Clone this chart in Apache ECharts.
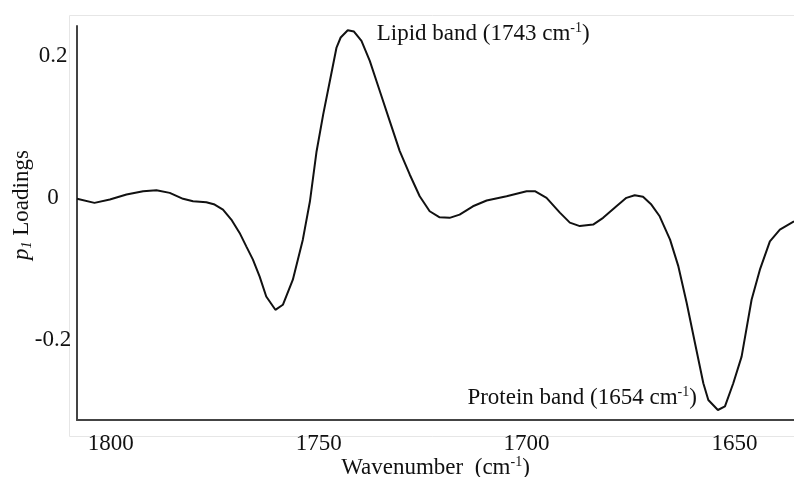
<!DOCTYPE html>
<html>
<head>
<meta charset="utf-8">
<script src="https://cdn.jsdelivr.net/npm/echarts@6/dist/echarts.min.js"></script>
<style>
  html, body { margin: 0; padding: 0; background: #ffffff; }
  #chart { width: 794px; height: 477px; }
</style>
</head>
<body>
<div id="chart"></div>
<script>
// PCA p1 loadings across the amide I / ester carbonyl region (cm-1)
const wavenumber = [1808.1, 1803.9, 1800.2, 1796.2, 1792.2, 1789.0, 1785.8, 1782.6, 1780.2, 1777.0,
  1775.0, 1773.0, 1771.0, 1769.0, 1767.4, 1765.8, 1764.2, 1762.6, 1760.4, 1758.6,
  1756.2, 1753.8, 1752.1, 1750.5, 1748.9, 1747.3, 1745.7, 1744.7, 1743.0, 1741.5,
  1739.7, 1737.7, 1735.3, 1732.9, 1730.5, 1728.1, 1725.7, 1723.3, 1720.9, 1718.5,
  1716.1, 1712.9, 1709.6, 1704.8, 1700.0, 1698.0, 1695.2, 1692.0, 1689.6, 1687.2,
  1684.0, 1681.6, 1678.4, 1676.0, 1674.0, 1672.0, 1670.0, 1668.0, 1665.5, 1663.5,
  1661.5, 1659.5, 1657.5, 1656.3, 1654.0, 1652.3, 1650.3, 1648.3, 1645.9, 1643.9,
  1641.5, 1639.1, 1635.7];
const loading = [-0.0011, -0.0068, -0.0021, 0.0049, 0.0096, 0.0110, 0.0073, -0.0011, -0.0045, -0.0059,
  -0.0092, -0.0162, -0.0303, -0.0491, -0.0680, -0.0868, -0.1104, -0.1386, -0.1574, -0.1503,
  -0.1150, -0.0586, -0.0049, 0.0656, 0.1179, 0.1649, 0.2120, 0.2261, 0.2364, 0.2345,
  0.2213, 0.1931, 0.1507, 0.1084, 0.0661, 0.0332, 0.0025, -0.0186, -0.0271, -0.0279,
  -0.0233, -0.0116, -0.0035, 0.0025, 0.0096, 0.0096, 0.0003, -0.0205, -0.0346, -0.0395,
  -0.0374, -0.0279, -0.0116, 0.0003, 0.0040, 0.0017, -0.0092, -0.0257, -0.0586, -0.0963,
  -0.1479, -0.2044, -0.2608, -0.2844, -0.2985, -0.2935, -0.2608, -0.2233, -0.1433, -0.1009,
  -0.0610, -0.0445, -0.0327];
const xTicks = [1800, 1750, 1700, 1650];
const yTicks = [-0.2, 0, 0.2];
const bandNames = ['Lipid band', 'Protein band'];

const points = wavenumber.map((w, i) => [w, loading[i]]);
const iMax = loading.indexOf(Math.max(...loading));
const iMin = loading.indexOf(Math.min(...loading));

const FONT = '"Liberation Serif", "Times New Roman", serif';
const INK = '#111111';
const FS = 23;
const richBase = {
  n: { fontFamily: FONT, fontSize: FS, color: INK, lineHeight: 25 },
  s: { fontFamily: FONT, fontSize: 14, color: INK, lineHeight: 14, verticalAlign: 'top' },
  i: { fontFamily: FONT, fontSize: FS, color: INK, fontStyle: 'italic', lineHeight: 25 },
  b: { fontFamily: FONT, fontSize: 14, color: INK, fontStyle: 'italic', lineHeight: 14, verticalAlign: 'bottom' }
};
const bandLabel = (name, w) => `{n|${name} (${Math.round(w)} cm}{s|-1}{n|)}`;

const chart = echarts.init(document.getElementById('chart'), null, { renderer: 'canvas' });
chart.setOption({
  animation: false,
  backgroundColor: '#ffffff',
  graphic: [{
    type: 'rect',
    left: 67, top: 13,
    shape: { width: 740, height: 421 },
    style: { fill: 'none', stroke: '#e6e6e6', lineWidth: 1 },
    z: -1
  }],
  grid: { left: 77, right: 0, top: 26, bottom: 57, containLabel: false, outerBoundsMode: 'none' },
  xAxis: {
    type: 'value',
    inverse: true,
    min: 1635.7,
    max: 1808.1,
    name: '{n|Wavenumber  (cm}{s|-1}{n|)}',
    nameLocation: 'middle',
    nameGap: 35,
    nameMoveOverlap: false,
    nameTextStyle: { rich: richBase },
    axisLine: { show: true, onZero: false, lineStyle: { color: '#444', width: 2 } },
    axisTick: { show: false },
    splitLine: { show: false },
    axisLabel: {
      customValues: xTicks,
      margin: 12,
      fontFamily: FONT, fontSize: FS, color: INK,
      formatter: v => String(v)
    }
  },
  yAxis: {
    type: 'value',
    min: -0.3126,
    max: 0.2423,
    name: '{i|p}{b|1}{n| Loadings}',
    nameLocation: 'middle',
    nameRotate: 90,
    nameGap: 43,
    nameMoveOverlap: false,
    nameTextStyle: { rich: richBase, padding: [0, 0, 0, 36] },
    axisLine: { show: true, onZero: false, lineStyle: { color: '#444', width: 2 } },
    axisTick: { show: false },
    splitLine: { show: false },
    axisLabel: {
      customValues: yTicks,
      align: 'center',
      margin: 24,
      fontFamily: FONT, fontSize: FS, color: INK,
      formatter: v => (v === 0 ? '0' : v.toFixed(1))
    }
  },
  series: [{
    type: 'line',
    data: points,
    showSymbol: false,
    smooth: false,
    clip: true,
    lineStyle: { color: INK, width: 2 },
    markPoint: {
      symbol: 'circle',
      symbolSize: 0,
      silent: true,
      data: [
        {
          coord: points[iMax],
          label: {
            show: true, position: 'right', distance: 0, offset: [29, 4],
            formatter: bandLabel(bandNames[0], wavenumber[iMax]), rich: richBase
          }
        },
        {
          coord: points[iMin],
          label: {
            show: true, position: 'left', distance: 0, offset: [-21, -12],
            formatter: bandLabel(bandNames[1], wavenumber[iMin]), rich: richBase
          }
        }
      ]
    }
  }]
});
</script>
</body>
</html>
